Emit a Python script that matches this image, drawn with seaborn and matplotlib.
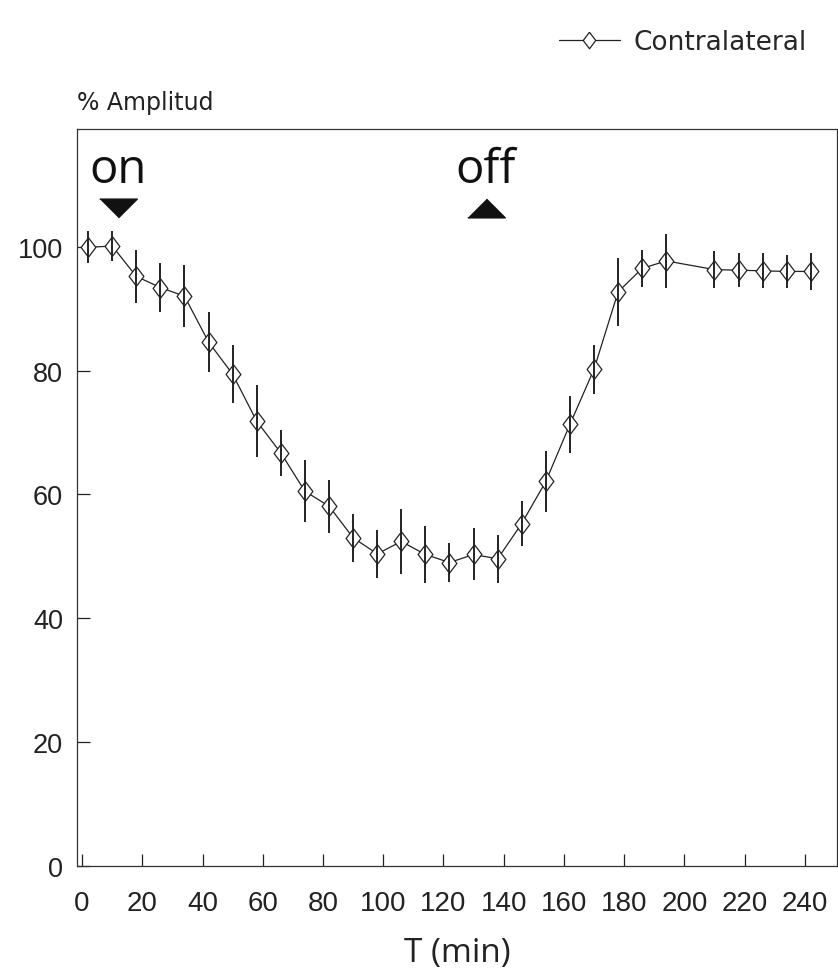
import matplotlib
matplotlib.use("Agg")
import matplotlib.pyplot as plt
import numpy as np
import pandas as pd
import seaborn as sns

# time after start (min), mean amplitude (%), error bar half-length
time_min = [2, 10, 18, 26, 34, 42, 50, 58, 66, 74, 82, 90, 98, 106, 114,
            122, 130, 138, 146, 154, 162, 170, 178, 186, 194, 210, 218, 226, 234, 242]
amplitude = [99.9, 100.1, 95.2, 93.4, 92.0, 84.6, 79.4, 71.8, 66.7, 60.5, 58.1, 53.0, 50.4, 52.4, 50.3,
             49.0, 50.3, 49.6, 55.3, 62.1, 71.3, 80.2, 92.7, 96.5, 97.7, 96.3, 96.2, 96.1, 96.0, 96.0]
amp_err = [2.6, 2.4, 4.3, 3.9, 5.0, 4.8, 4.7, 5.8, 3.7, 5.0, 4.3, 3.9, 3.9, 5.3, 4.6,
           3.2, 4.2, 3.9, 3.6, 4.9, 4.6, 4.0, 5.5, 3.0, 4.4, 3.0, 2.75, 2.8, 2.6, 3.0]

x_ticks = [0, 20, 40, 60, 80, 100, 120, 140, 160, 180, 200, 220, 240]
y_ticks = [0, 20, 40, 60, 80, 100]

# stimulus markers: label, time, marker direction
events = ["on", "off"]
event_times = [12, 134]
event_dirs = ["down", "up"]

sns.set_theme(style="white")
plt.rcParams["font.family"] = ["Liberation Sans", "DejaVu Sans"]

df = pd.DataFrame({"t": time_min, "amp": amplitude, "err": amp_err})

fig = plt.figure(figsize=(8.38, 9.79), dpi=100)
ax = fig.add_axes([77 / 838, 1 - 867 / 979, (837 - 77) / 838, (867 - 130) / 979])

diamond = [(0, 1), (0.76, 0), (0, -1), (-0.76, 0), (0, 1)]
sns.lineplot(data=df, x="t", y="amp", ax=ax, color="#222222", linewidth=0.9,
             marker=diamond, markersize=14, markerfacecolor="white",
             markeredgecolor="#222222", markeredgewidth=0.9,
             label="Contralateral", zorder=2)
ax.errorbar(df["t"], df["amp"], yerr=df["err"], fmt="none", ecolor="#222222",
            elinewidth=1.4, capsize=0, zorder=3)

ax.set_xlim(-1.7, 250.7)
ax.set_ylim(0, 119)
ax.set_xticks(x_ticks)
ax.set_yticks(y_ticks)
ax.tick_params(axis="x", bottom=True, direction="in", length=9, width=0.9, pad=17,
               labelsize=20, colors="#222222")
ax.tick_params(axis="y", left=True, direction="in", length=9, width=0.9, pad=10,
               labelsize=19.5, colors="#222222")
ax.yaxis.set_ticks_position("left")
ax.xaxis.set_ticks_position("bottom")
for side in ["left", "bottom", "top", "right"]:
    ax.spines[side].set_color("#333333")
    ax.spines[side].set_linewidth(0.9)

ax.set_xlabel("T (min)", fontsize=24, family="Open Sans", labelpad=15, color="#222222")
ax.set_ylabel("")

# on / off stimulus annotations
tri = {"down": [(-1, 0.5), (1, 0.5), (0, -0.5)], "up": [(-1, -0.5), (1, -0.5), (0, 0.5)]}
for label, t, d in zip(events, event_times, event_dirs):
    ax.text(t, 110.5, label, ha="center", va="baseline", fontsize=34,
            family="Open Sans", color="#111111")
    ax.plot([t], [106.3], marker=tri[d], markersize=27, color="#111111",
            linestyle="none", clip_on=False)

fig.text(77 / 838, 1 - 110 / 979, "% Amplitud", ha="left", va="baseline",
         fontsize=17, family="DejaVu Sans", color="#222222")

ax.legend(loc="upper right", bbox_to_anchor=(830 / 838, 1 - 6 / 979),
          bbox_transform=fig.transFigure, frameon=False,
          prop={"family": "DejaVu Sans", "size": 19},
          handlelength=2.3, handletextpad=0.5, markerscale=0.85)

fig.savefig("out.png", dpi=100)
